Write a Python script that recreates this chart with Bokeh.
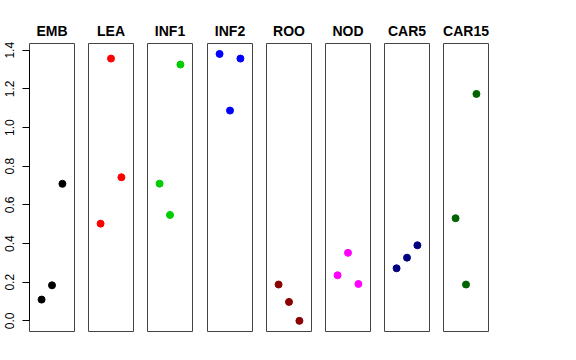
from bokeh.plotting import figure
from bokeh.layouts import row
from bokeh.models import Range1d, FixedTicker
from bokeh.embed import file_html
from bokeh.resources import INLINE

panels = ["EMB", "LEA", "INF1", "INF2", "ROO", "NOD", "CAR5", "CAR15"]
colors = ["#000000", "#FF0000", "#00CD00", "#0000FF", "#8B0000", "#FF00FF", "#000080", "#006400"]
xs = [1, 2, 3]
EMB = [0.110, 0.184, 0.709]
LEA = [0.503, 1.357, 0.743]
INF1 = [0.710, 0.548, 1.326]
INF2 = [1.381, 1.088, 1.357]
ROO = [0.188, 0.098, 0.000]
NOD = [0.236, 0.352, 0.191]
CAR5 = [0.272, 0.327, 0.391]
CAR15 = [0.531, 0.188, 1.174]
values = [EMB, LEA, INF1, INF2, ROO, NOD, CAR5, CAR15]
y_ticks = [0.0, 0.2, 0.4, 0.6, 0.8, 1.0, 1.2, 1.4]
y_tick_labels = ["0.0", "0.2", "0.4", "0.6", "0.8", "1.0", "1.2", "1.4"]

left_borders = [29, 7, 7, 8, 7, 7, 7, 7]
figs = []
for i, (name, col, ys) in enumerate(zip(panels, colors, values)):
    lb = left_borders[i]
    p = figure(output_backend="svg", toolbar_location=None,
               frame_width=45, frame_height=288,
               min_border_left=lb, min_border_right=7,
               min_border_top=43, min_border_bottom=10,
               x_range=Range1d(-0.16, 4.16), y_range=Range1d(-0.055, 1.435),
               x_axis_location=None,
               y_axis_location="left" if i == 0 else None,
               title=name)
    p.title.align = "center"
    p.title.text_font = "Liberation Sans"
    p.title.text_font_size = "14px"
    p.title.text_font_style = "bold"
    p.title.text_color = "black"
    p.title.standoff = 9
    p.xgrid.visible = False
    p.ygrid.visible = False
    p.outline_line_color = "#444444"
    p.outline_line_width = 1
    p.background_fill_color = "white"
    p.border_fill_color = "white"
    if i == 0:
        ax = p.yaxis[0]
        ax.ticker = FixedTicker(ticks=y_ticks)
        ax.major_label_overrides = {t: s for t, s in zip(y_ticks, y_tick_labels)}
        ax.bounds = (0, 1.4)
        ax.major_tick_out = 7
        ax.major_tick_in = 0
        ax.minor_tick_out = 0
        ax.minor_tick_in = 0
        ax.axis_line_color = "black"
        ax.major_tick_line_color = "black"
        ax.major_label_orientation = "vertical"
        ax.major_label_standoff = 8
        ax.major_label_text_font = "Liberation Sans"
        ax.major_label_text_font_size = "12px"
        ax.major_label_text_color = "black"
    p.scatter(x=xs, y=ys, size=7, color=col, line_color=col)
    figs.append(p)

layout = row(*figs, spacing=0)
open("out.html", "w").write(file_html(layout, INLINE))
